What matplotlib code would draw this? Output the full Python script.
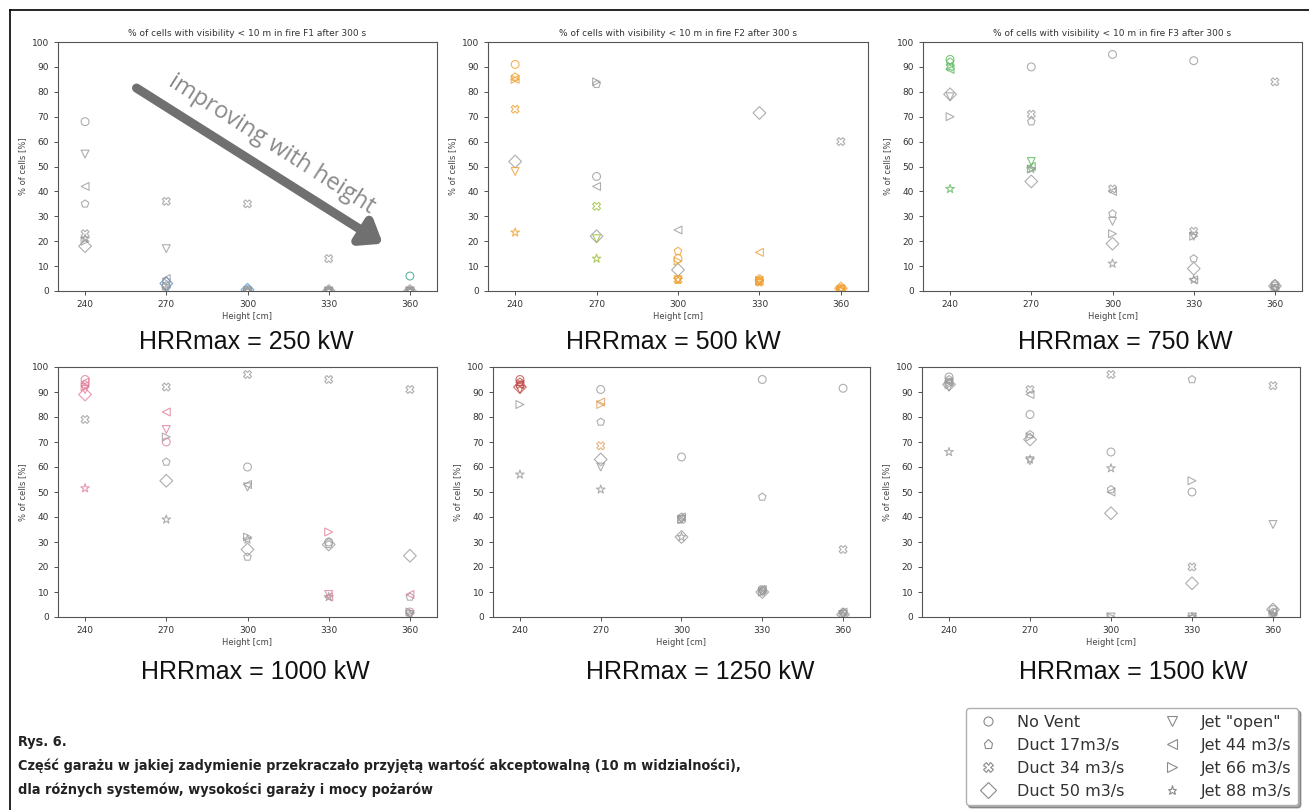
import numpy as np
import matplotlib
matplotlib.use('Agg')
import matplotlib.pyplot as plt
from matplotlib.lines import Line2D

# heights of the garage [cm]
heights = [240, 270, 300, 330, 360]

systems = ['No Vent', 'Duct 17m3/s', 'Duct 34 m3/s', 'Duct 50 m3/s',
           'Jet "open"', 'Jet 44 m3/s', 'Jet 66 m3/s', 'Jet 88 m3/s']
markers = ['o', 'p', 'X', 'D', 'v', '<', '>', '*']

fire_titles = ['F1', 'F2', 'F3', None, None, None]
hrr_labels = ['HRRmax = 250 kW', 'HRRmax = 500 kW', 'HRRmax = 750 kW',
              'HRRmax = 1000 kW', 'HRRmax = 1250 kW', 'HRRmax = 1500 kW']

# % of cells with visibility < 10 m, one row per system (order as in systems)
hrr_250 = [[68, 2, 0.5, 0, 6],
           [35, 4, 0, 0, 0],
           [23, 36, 35, 13, 0],
           [18, 3, 0.5, 0, 0],
           [55, 17, 0, 0, 0],
           [42, 5, 0, 0, 0],
           [20, 2, 0, 0, 0],
           [21, 1, 0, 0, 0]]
hrr_500 = [[91, 46, 13, 4, 1],
           [86, 83, 16, 5, 0.5],
           [73, 34, 4.5, 3.5, 60],
           [52, 22, 8.5, 71.5, 1],
           [48, 21, 4.5, 4, 0.5],
           [85, 42, 24.5, 15.5, 1],
           [85, 84, 12, 4, 0.5],
           [23.5, 13, 4.5, 4, 0.5]]
hrr_750 = [[93, 90, 95, 92.5, 2],
           [92, 68, 31, 13, 3],
           [90, 71, 41, 24, 84],
           [79, 44, 19, 9, 2],
           [78, 52, 28, 22, 1],
           [89, 50, 40, 4.5, 1.5],
           [70, 49, 23, 22, 1],
           [41, 49, 11, 4.5, 1]]
hrr_1000 = [[95, 70, 60, 30, 2],
            [93, 62, 24, 29, 8],
            [79, 92, 97, 95, 91],
            [89, 54.5, 27, 29, 24.5],
            [91, 75, 52, 9, 1],
            [94, 82, 53, 8, 9],
            [92, 72, 32, 34, 2],
            [51.5, 39, 31, 8, 1]]
hrr_1250 = [[95, 91, 64, 95, 91.5],
            [94, 78, 40, 48, 2],
            [93, 68.5, 39, 11, 27],
            [92, 63, 32, 10, 1],
            [91, 60, 39, 10, 1],
            [93, 86, 40, 11, 2],
            [85, 85, 39, 10, 1],
            [57, 51, 32, 10, 1]]
hrr_1500 = [[96, 81, 66, 50, 3],
            [95, 73, 51, 95, 2],
            [94, 91, 97, 20, 92.5],
            [93, 71, 41.5, 13.5, 3],
            [92, 62.5, 0, 0, 37],
            [94, 89, 50, 0, 2],
            [93, 72, 0, 54.5, 1],
            [66, 63, 59.5, 0, 1]]
panels = [hrr_250, hrr_500, hrr_750, hrr_1000, hrr_1250, hrr_1500]

# colouring of single points: default colour + (system, height index) overrides
GREY = '#9a9a9a'
default_col = [GREY, '#f0a030', GREY, GREY, GREY, GREY]
overrides = [
    {'#5b8ec4': [(0, 1), (3, 1), (0, 2), (3, 2)], '#3aa08a': [(0, 4)]},
    {GREY: [(3, 0), (3, 1), (3, 2), (3, 3), (2, 4), (0, 1), (1, 1), (5, 1), (6, 1), (5, 2)],
     '#9cbf3a': [(2, 1), (4, 1), (7, 1)]},
    {'#5cb85c': [(0, 0), (1, 0), (2, 0), (5, 0), (7, 0), (4, 1), (5, 1), (6, 1)]},
    {'#e07f9a': [(0, 0), (1, 0), (3, 0), (4, 0), (5, 0), (6, 0), (7, 0),
                 (5, 1), (0, 1), (4, 1), (6, 3), (4, 3), (5, 3), (0, 4), (5, 4)]},
    {'#c0504d': [(0, 0), (1, 0), (2, 0), (3, 0), (4, 0), (5, 0)],
     '#e0a060': [(2, 1), (5, 1), (6, 1)]},
    {},
]

W, H = 1309, 810
fig = plt.figure(figsize=(W / 100, H / 100), dpi=100)

# axes boxes in pixels: left, top, right, bottom
boxes = [(58, 42, 437, 291), (488, 42, 868, 291), (923, 42, 1302, 291),
         (58, 367, 437, 617), (493, 367, 870, 617), (922, 367, 1300, 617)]
label_pos = [(246, 342), (673, 342), (1125, 342), (255, 672), (700, 672), (1133, 672)]

axes = []
for k, (l, t, r, b) in enumerate(boxes):
    ax = fig.add_axes([l / W, 1 - b / H, (r - l) / W, (b - t) / H])
    data = panels[k]
    for i, vals in enumerate(data):
        cols = []
        for j in range(len(heights)):
            c = default_col[k]
            for col, pts in overrides[k].items():
                if (i, j) in pts:
                    c = col
            cols.append(c)
        ms = 42 if markers[i] in ('D', '*') else 32
        ax.scatter(heights, vals, s=ms, marker=markers[i], facecolors='none',
                   edgecolors=cols, linewidths=0.8, alpha=0.8, zorder=3)
    ax.set_xlim(230, 370)
    ax.set_ylim(0, 100)
    ax.set_xticks(heights)
    ax.set_yticks(range(0, 101, 10))
    ax.tick_params(labelsize=6.5, length=3, width=0.6, colors='#333333')
    for sp in ax.spines.values():
        sp.set_color('#555555')
        sp.set_linewidth(0.8)
    ax.set_xlabel('Height [cm]', fontsize=6, color='#444444', labelpad=2)
    ax.set_ylabel('% of cells [%]', fontsize=6, color='#444444', labelpad=3)
    if fire_titles[k]:
        ax.set_title('% of cells with visibility < 10 m in fire ' + fire_titles[k] + ' after 300 s',
                     fontsize=6.5, color='#333333', pad=4)
    axes.append(ax)
    lx, ly = label_pos[k]
    fig.text(lx / W, 1 - ly / H, hrr_labels[k], fontsize=18, family='Liberation Sans',
             ha='center', va='center', color='#111111')

# arrow in first panel
ax0 = axes[0]
ax0.annotate('', xy=(350, 19), xytext=(259, 81.5),
             arrowprops=dict(arrowstyle='-|>,head_width=0.9,head_length=1.2',
                             lw=6.5, color='#707070', shrinkA=0, shrinkB=0), zorder=4)
ax0.text(309, 59, 'improving with height', rotation=-32.5, rotation_mode='anchor',
         ha='center', va='center', fontsize=17, family='Open Sans', color='#8a8a8a')

# legend
handles = [Line2D([], [], marker=m, linestyle='none', markerfacecolor='none',
                  markeredgecolor='#8a8a8a', markersize=8 if m == 'D' else 6.5,
                  markeredgewidth=0.8) for m in markers]
leg = fig.legend(handles, systems,
                 ncol=2, loc='lower right', bbox_to_anchor=(1298 / W, 5 / H),
                 borderaxespad=0, fontsize=11.5, frameon=True, fancybox=True,
                 shadow=True, framealpha=1, edgecolor='#b0b0b0')
for t in leg.get_texts():
    t.set_color('#333333')

# caption
cap_font = dict(family='DejaVu Sans', stretch='condensed', weight='bold',
                fontsize=10.4, color='#222222', va='center', ha='left')
fig.text(18 / W, 1 - 742 / H, 'Rys. 6.', **cap_font)
fig.text(18 / W, 1 - 766 / H,
         'Część garażu w jakiej zadymienie przekraczało przyjętą wartość akceptowalną (10 m widzialności),',
         **cap_font)
fig.text(18 / W, 1 - 790 / H, 'dla różnych systemów, wysokości garaży i mocy pożarów', **cap_font)

# frame lines (top and left)
fig.add_artist(Line2D([10 / W, 1], [1 - 10 / H, 1 - 10 / H], transform=fig.transFigure,
                      color='k', lw=1.2))
fig.add_artist(Line2D([10 / W, 10 / W], [0, 1 - 10 / H], transform=fig.transFigure,
                      color='k', lw=1.2))

fig.savefig('out.png', dpi=100)
